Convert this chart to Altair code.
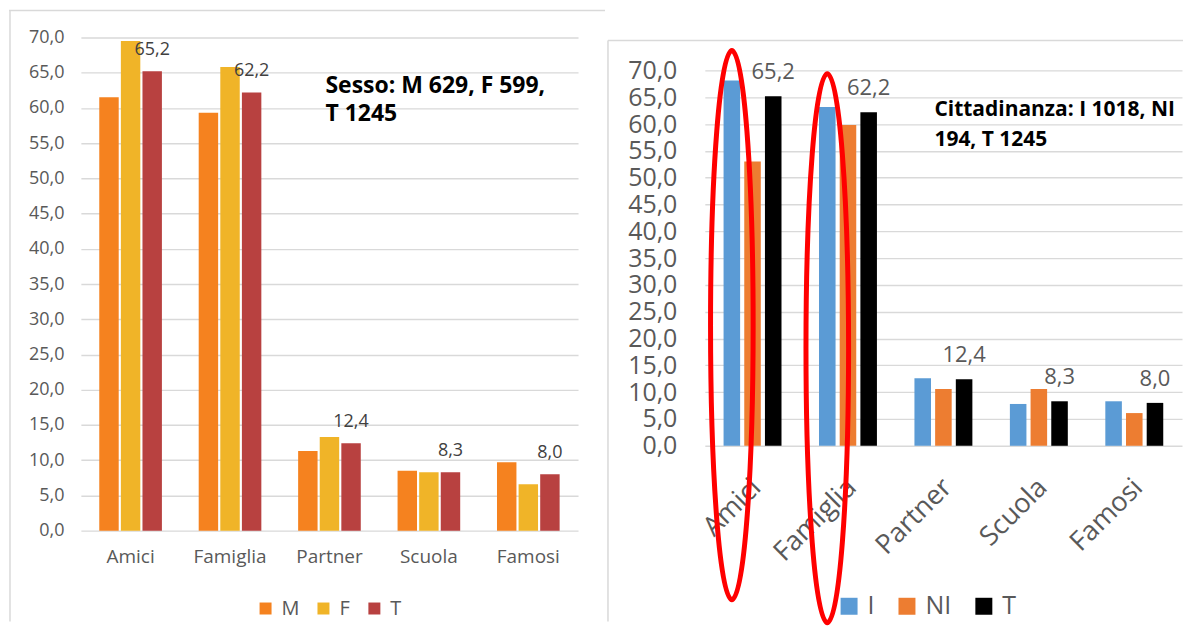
import altair as alt
import pandas as pd

categories = ["Amici", "Famiglia", "Partner", "Scuola", "Famosi"]

sex_series = ["M", "F", "T"]
sex_M = [61.5, 59.3, 11.3, 8.5, 9.7]
sex_F = [69.5, 65.8, 13.3, 8.3, 6.6]
sex_T = [65.2, 62.2, 12.4, 8.3, 8.0]
sex_colors = ["#F5821F", "#F0B428", "#B84140"]
sex_note = ["Sesso: M 629, F 599,", "T 1245"]

cit_series = ["I", "NI", "T"]
cit_I = [68.1, 63.2, 12.6, 7.8, 8.3]
cit_NI = [53.0, 59.8, 10.6, 10.6, 6.1]
cit_T = [65.2, 62.2, 12.4, 8.3, 8.0]
cit_colors = ["#5B9BD5", "#ED7D31", "#000000"]
cit_note = ["Cittadinanza: I 1018, NI", "194, T 1245"]

highlight_cats = ["Amici", "Famiglia"]
highlight_y = [22.5, 18.2]

y_ticks = [0, 5, 10, 15, 20, 25, 30, 35, 40, 45, 50, 55, 60, 65, 70]

FONT = "Open Sans"
GREY = "#595959"
GRID = "#D9D9D9"
COMMA = "replace(format(datum.value, '.1f'), '.', ',')"


def long_df(names, arrays):
    rows = []
    for s, arr in zip(names, arrays):
        for c, v in zip(categories, arr):
            rows.append({"cat": c, "series": s, "value": v})
    return pd.DataFrame(rows)


one = pd.DataFrame({"k": [0]})

# ---------------- left chart ----------------
sex_df = long_df(sex_series, [sex_M, sex_F, sex_T])
LW, LH = 498, 494

lx = alt.X("cat:N", sort=categories,
           scale=alt.Scale(domain=categories, paddingInner=0.37, paddingOuter=0.185),
           axis=alt.Axis(title=None, ticks=False, tickSize=0, domain=False, grid=False,
                         labelAngle=0, labelFont=FONT, labelFontSize=19, labelColor=GREY,
                         labelPadding=17))
lxo = alt.XOffset("series:N", sort=sex_series,
                  scale=alt.Scale(domain=sex_series, paddingInner=0.1, paddingOuter=0))
ly = alt.Y("value:Q", scale=alt.Scale(domain=[0, 70], nice=False),
           axis=alt.Axis(title=None, values=y_ticks, ticks=False, tickSize=0, domain=False,
                         gridColor=GRID, gridWidth=1.4, labelExpr=COMMA, labelFont=FONT,
                         labelFontSize=18, labelColor=GREY, labelPadding=17,
                         labelOverlap=False))

l_bars = alt.Chart(sex_df).mark_bar().encode(
    x=lx, xOffset=lxo, y=ly,
    color=alt.Color("series:N", sort=sex_series,
                    scale=alt.Scale(domain=sex_series, range=sex_colors),
                    legend=alt.Legend(orient="none", legendX=175, legendY=562,
                                      direction="horizontal", title=None, padding=0,
                                      symbolType="square", symbolSize=144,
                                      symbolStrokeWidth=0, labelFont=FONT,
                                      labelFontSize=20, labelColor=GREY, labelOffset=6,
                                      columnPadding=14)))
l_labels = alt.Chart(sex_df).transform_filter(alt.datum.series == "T").transform_calculate(
    label=COMMA).mark_text(baseline="alphabetic", dy=-16, font=FONT, fontSize=18,
                           color="#404040").encode(x=lx, xOffset=lxo, y=ly, text="label:N")
l_note = alt.Chart(one).mark_text(text=sex_note, align="left", baseline="alphabetic",
                                  font=FONT, fontSize=23, fontWeight="bold",
                                  lineHeight=28, color="#000000").encode(
    x=alt.value(245), y=alt.value(56))
l_anchor = alt.Chart(one).mark_point(opacity=0, size=1, filled=True).encode(
    x=alt.value(-72), y=alt.value(-28))
l_border_top = alt.Chart(one).mark_rule(color=GRID, strokeWidth=1.5).encode(
    x=alt.value(-72), x2=alt.value(525), y=alt.value(-27), y2=alt.value(-27))
l_border_left = alt.Chart(one).mark_rule(color=GRID, strokeWidth=1.5).encode(
    x=alt.value(-71), x2=alt.value(-71), y=alt.value(-27), y2=alt.value(585))

left = alt.layer(l_border_top, l_border_left, l_anchor, l_bars, l_labels, l_note).properties(
    width=LW, height=LH)

# ---------------- right chart ----------------
# group origin shares the left plot's top; the value axis is drawn lower via its range
cit_df = long_df(cit_series, [cit_I, cit_NI, cit_T])
RW, RH = 478, 409

rx = alt.X("cat:N", sort=categories,
           scale=alt.Scale(domain=categories, paddingInner=0.393, paddingOuter=0.1965),
           axis=alt.Axis(title=None, ticks=False, tickSize=0, domain=False, grid=False,
                         labelAngle=-45, labelAlign="right", labelBaseline="top",
                         labelOffset=-5, labelPadding=28, labelFont=FONT,
                         labelFontSize=27, labelColor=GREY))
rxo = alt.XOffset("series:N", sort=cit_series,
                  scale=alt.Scale(domain=cit_series, paddingInner=0.2, paddingOuter=0))
ry = alt.Y("value:Q", scale=alt.Scale(domain=[0, 70], nice=False, range=[RH, 33]),
           axis=alt.Axis(title=None, values=y_ticks, ticks=False, tickSize=0, domain=False,
                         gridColor=GRID, gridWidth=1.4, labelExpr=COMMA, labelFont=FONT,
                         labelFontSize=25, labelColor=GREY, labelPadding=28,
                         labelOverlap=False))

r_bars = alt.Chart(cit_df).mark_bar().encode(
    x=rx, xOffset=rxo, y=ry,
    color=alt.Color("series:N", sort=cit_series,
                    scale=alt.Scale(domain=cit_series, range=cit_colors),
                    legend=alt.Legend(orient="none", legendX=132, legendY=557,
                                      direction="horizontal", title=None, padding=0,
                                      symbolType="square", symbolSize=289,
                                      symbolStrokeWidth=0, labelFont=FONT,
                                      labelFontSize=25, labelColor=GREY, labelOffset=6,
                                      columnPadding=20)))
r_labels = alt.Chart(cit_df).transform_filter(alt.datum.series == "T").transform_calculate(
    label=COMMA).mark_text(baseline="alphabetic", dy=-17, font=FONT, fontSize=22,
                           color=GREY).encode(x=rx, xOffset=rxo, y=ry, text="label:N")
r_note = alt.Chart(one).mark_text(text=cit_note, align="left", baseline="alphabetic",
                                  font=FONT, fontSize=21, fontWeight="bold",
                                  lineHeight=30, color="#000000").encode(
    x=alt.value(230), y=alt.value(79))
r_anchor = alt.Chart(one).mark_point(opacity=0, size=1, filled=True).encode(
    x=alt.value(-98), y=alt.value(0))
r_border_top = alt.Chart(one).mark_rule(color=GRID, strokeWidth=1.5).encode(
    x=alt.value(-97), x2=alt.value(479), y=alt.value(3), y2=alt.value(3))
r_border_left = alt.Chart(one).mark_rule(color=GRID, strokeWidth=1.5).encode(
    x=alt.value(-97), x2=alt.value(-97), y=alt.value(3), y2=alt.value(585))

# ellipse outline (unit path scaled by the symbol size)
k = 0.5523
ea = 0.0776
ellipse_path = (
    f"M0,-1 C{k*ea:.4f},-1 {ea},{-k} {ea},0 "
    f"C{ea},{k} {k*ea:.4f},1 0,1 "
    f"C{-k*ea:.4f},1 {-ea},{k} {-ea},0 "
    f"C{-ea},{-k} {-k*ea:.4f},-1 0,-1 Z"
)
hl_df = pd.DataFrame({"cat": highlight_cats, "series": ["I"] * len(highlight_cats),
                      "value": highlight_y})
r_ellipse = alt.Chart(hl_df).mark_point(shape=ellipse_path, size=550 * 550, filled=False,
                                        stroke="#FF0000", strokeWidth=5, opacity=1).encode(
    x=rx, xOffset=rxo, y=ry)

right = alt.layer(r_border_top, r_border_left, r_anchor, r_bars, r_labels, r_note,
                  r_ellipse).properties(width=RW, height=RH)

chart = alt.hconcat(left, right, spacing=0).resolve_scale(
    color="independent", xOffset="independent", x="independent", y="independent"
).resolve_legend(color="independent").properties(padding=0).configure_view(stroke=None)

chart.save("out.html", embed_options={"renderer": "svg", "actions": False})
